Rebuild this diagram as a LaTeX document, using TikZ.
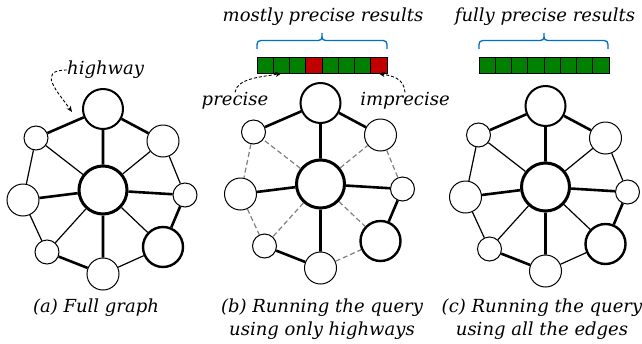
\documentclass[tikz,border=0pt]{standalone}
\usepackage{fontspec}
\setmainfont{DejaVu Serif}
\usetikzlibrary{arrows.meta}
\definecolor{bargreen}{RGB}{0,128,0}
\definecolor{barred}{RGB}{192,0,0}
\definecolor{braceblue}{RGB}{0,112,192}
\tikzset{
  vtx/.style={circle,draw,fill=white,inner sep=0pt,line width=1pt},
  hw/.style={line width=2.6pt},
  lw/.style={line width=1.2pt},
  dsh/.style={line width=1.2pt,gray,dash pattern=on 5pt off 3pt},
  lbl/.style={font=\fontsize{18}{23}\selectfont\itshape,inner sep=0pt},
  cell/.style={draw,line width=0.9pt,minimum width=16.25pt,minimum height=16pt,inner sep=0pt},
  brc/.style={braceblue,line width=1.3pt},
  pointer/.style={line width=0.9pt,dash pattern=on 3pt off 2pt,-{Stealth[length=6pt,width=5pt]}}
}
\newcommand\graphnodes[3]{%
  \begin{scope}[shift={(#2,#3)}]
    \node[vtx,minimum size=40pt,line width=2pt] (#1T) at (0,0) {};
    \node[vtx,minimum size=48pt,line width=3pt] (#1C) at (0,81) {};
    \node[vtx,minimum size=24pt] (#1UL) at (-67,29) {};
    \node[vtx,minimum size=32pt] (#1UR) at (60,32) {};
    \node[vtx,minimum size=32pt] (#1L) at (-80,91) {};
    \node[vtx,minimum size=24pt] (#1R) at (82,86) {};
    \node[vtx,minimum size=24pt] (#1LL) at (-56,143) {};
    \node[vtx,minimum size=32pt] (#1B) at (0,165) {};
    \node[vtx,minimum size=40pt,line width=2.4pt] (#1LR) at (60,138) {};
  \end{scope}}
\newcommand\graphedges[2]{%
  \draw[hw] (#1T)--(#1C) (#1T)--(#1UL) (#1T)--(#1UR) (#1C)--(#1L) (#1C)--(#1R)
            (#1C)--(#1B) (#1LL)--(#1B) (#1LR)--(#1R);
  \draw[#2] (#1C)--(#1UL) (#1C)--(#1UR) (#1C)--(#1LL) (#1C)--(#1LR)
            (#1UL)--(#1L) (#1L)--(#1LL) (#1UR)--(#1R) (#1B)--(#1LR);}
\begin{document}
\begin{tikzpicture}[x=1pt,y=-1pt]
\useasboundingbox (0,0) rectangle (642,343);
% graphs
\graphnodes{a}{103}{109}
\graphnodes{b}{320.5}{103}
\graphnodes{c}{545.5}{106}
\graphedges{a}{lw}
\graphedges{b}{dsh}
\graphedges{c}{lw}
% bars
\foreach \i/\col in {0/bargreen,1/bargreen,2/bargreen,3/barred,4/bargreen,5/bargreen,6/bargreen,7/barred}
  \node[cell,fill=\col] (b\i) at (257+8.125+16.25*\i,65) {};
\foreach \i in {0,...,7}
  \node[cell,fill=bargreen] (c\i) at (479+8.125+16.25*\i,65) {};
% braces
\draw[brc] (257,49) .. controls (257,40.5) .. (265,40.5) -- (314,40.5)
  .. controls (322,40.5) .. (322,33) .. controls (322,40.5) .. (330,40.5)
  -- (379,40.5) .. controls (387,40.5) .. (387,49);
\draw[brc] (479,49) .. controls (479,40.5) .. (487,40.5) -- (536,40.5)
  .. controls (544,40.5) .. (544,33) .. controls (544,40.5) .. (552,40.5)
  -- (600,40.5) .. controls (608,40.5) .. (608,49);
% labels
\node[lbl] (tb) at (323,17) {mostly precise results};
\node[lbl] (tc) at (545,17) {fully precise results};
\node[lbl] (prec) at (235,101) {precise};
\node[lbl] (imprec) at (405,101) {imprecise};
\node[lbl,anchor=west] (hwy) at (67,70) {highway};
\coordinate (hwtip) at (72,112);
\draw[pointer] (prec.north) .. controls (237,78) and (262,77) .. (b1.south);
\draw[pointer] (imprec.north) .. controls (404,78) and (392,76) .. (b7.south);
\draw[pointer] (hwy.west) .. controls (36,70) and (58,92) .. (hwtip);
% captions
\node[lbl] (capa) at (96,308) {(\textit{a}) Full graph};
\node[lbl,align=center] (capb) at (322,319) {(\textit{b}) Running the query\\using only highways};
\node[lbl,align=center] (capc) at (542,319) {(\textit{c}) Running the query\\using all the edges};
\end{tikzpicture}
\end{document}
